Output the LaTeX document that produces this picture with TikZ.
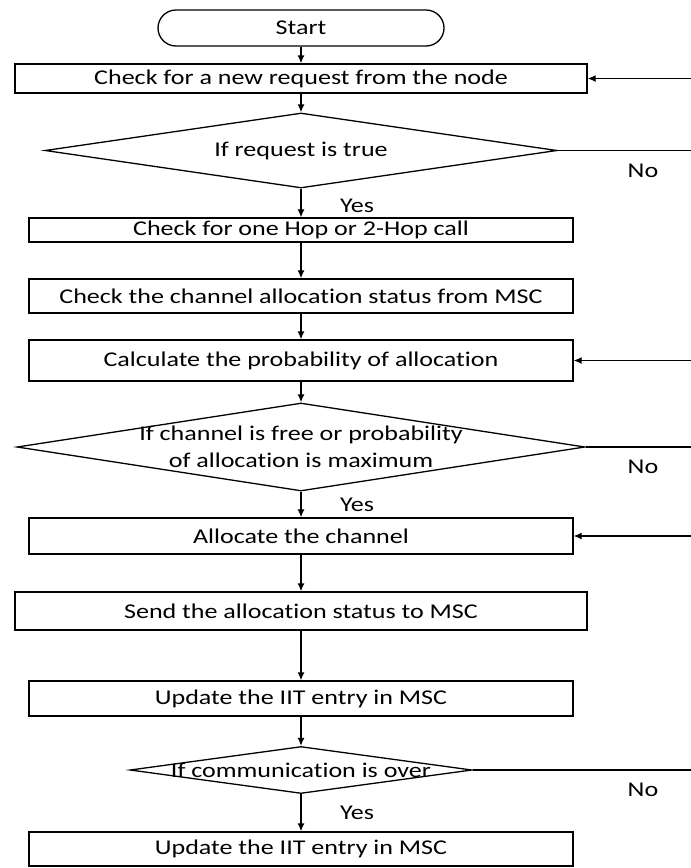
\documentclass[tikz,border=0pt]{standalone}
\usepackage{fontspec}
\setmainfont{Carlito}[FakeStretch=1.24,Ligatures=NoCommon]
\usetikzlibrary{arrows.meta,shapes.geometric}

\begin{document}
\begin{tikzpicture}[x=1pt,y=-1pt,
  font=\fontsize{21}{27}\selectfont,
  stepbox/.style={draw,line width=1.3pt,rectangle,inner sep=0pt},
  testbox/.style={draw,line width=1.3pt,diamond,inner sep=0pt},
  flow/.style={line width=1.3pt,-{Latex[length=8pt,width=7pt]}},
  plain/.style={line width=1.3pt}]

\useasboundingbox (0,0) rectangle (691,868);

\node[stepbox,rounded corners=18pt,minimum width=286,minimum height=36] (start) at (301,28) {Start};
\node[stepbox,minimum width=572,minimum height=29] (b1) at (301,78.5) {Check for a new request from the node};
\node[testbox,minimum width=512,minimum height=75] (d1) at (301,150.5) {};
\node (t1) at (d1) {If request is true};
\node[stepbox,minimum width=544,minimum height=24] (b2) at (301,230) {Check for one Hop or 2-Hop call};
\node[stepbox,minimum width=544,minimum height=34] (b3) at (301,296) {Check the channel allocation status from MSC};
\node[stepbox,minimum width=544,minimum height=41] (b4) at (301,360.5) {Calculate the probability of allocation};
\node[testbox,minimum width=568,minimum height=88] (d2) at (301,447) {};
\node[align=center] (t2) at (d2) {If channel is free or probability\\of allocation is maximum};
\node[stepbox,minimum width=544,minimum height=36] (b5) at (301,536) {Allocate the channel};
\node[stepbox,minimum width=572,minimum height=38] (b6) at (301,611) {Send the allocation status to MSC};
\node[stepbox,minimum width=544,minimum height=35] (b7) at (301,698.5) {Update the IIT entry in MSC};
\node[testbox,minimum width=342,minimum height=47] (d3) at (301,770) {};
\node (t3) at (d3) {If communication is over};
\node[stepbox,minimum width=544,minimum height=34] (b8) at (301,849) {Update the IIT entry in MSC};

\node (yes1) at (357,206) {Yes};
\node (yes2) at (357,505) {Yes};
\node (yes3) at (357,813) {Yes};
\node (no1) at (643,171) {No};
\node (no2) at (643,467) {No};
\node (no3) at (643,790) {No};

\coordinate (in1) at (691,78.5);
\coordinate (in4) at (691,360.5);
\coordinate (in5) at (691,536);
\coordinate (out1) at (691,150.5);
\coordinate (out2) at (691,447);
\coordinate (out3) at (691,770);

\draw[flow] (start) -- (b1);
\draw[flow] (b1) -- (d1);
\draw[flow] (d1) -- (b2);
\draw[flow] (b2) -- (b3);
\draw[flow] (b3) -- (b4);
\draw[flow] (b4) -- (d2);
\draw[flow] (d2) -- (b5);
\draw[flow] (b5) -- (b6);
\draw[flow] (b6) -- (b7);
\draw[flow] (b7) -- (d3);
\draw[flow] (d3) -- (b8);

\draw[plain] (d1.east) -- (out1);
\draw[plain] (d2.east) -- (out2);
\draw[plain] (d3.east) -- (out3);

\draw[flow] (in1) -- (b1.east);
\draw[flow] (in4) -- (b4.east);
\draw[flow] (in5) -- (b5.east);

\end{tikzpicture}
\end{document}
